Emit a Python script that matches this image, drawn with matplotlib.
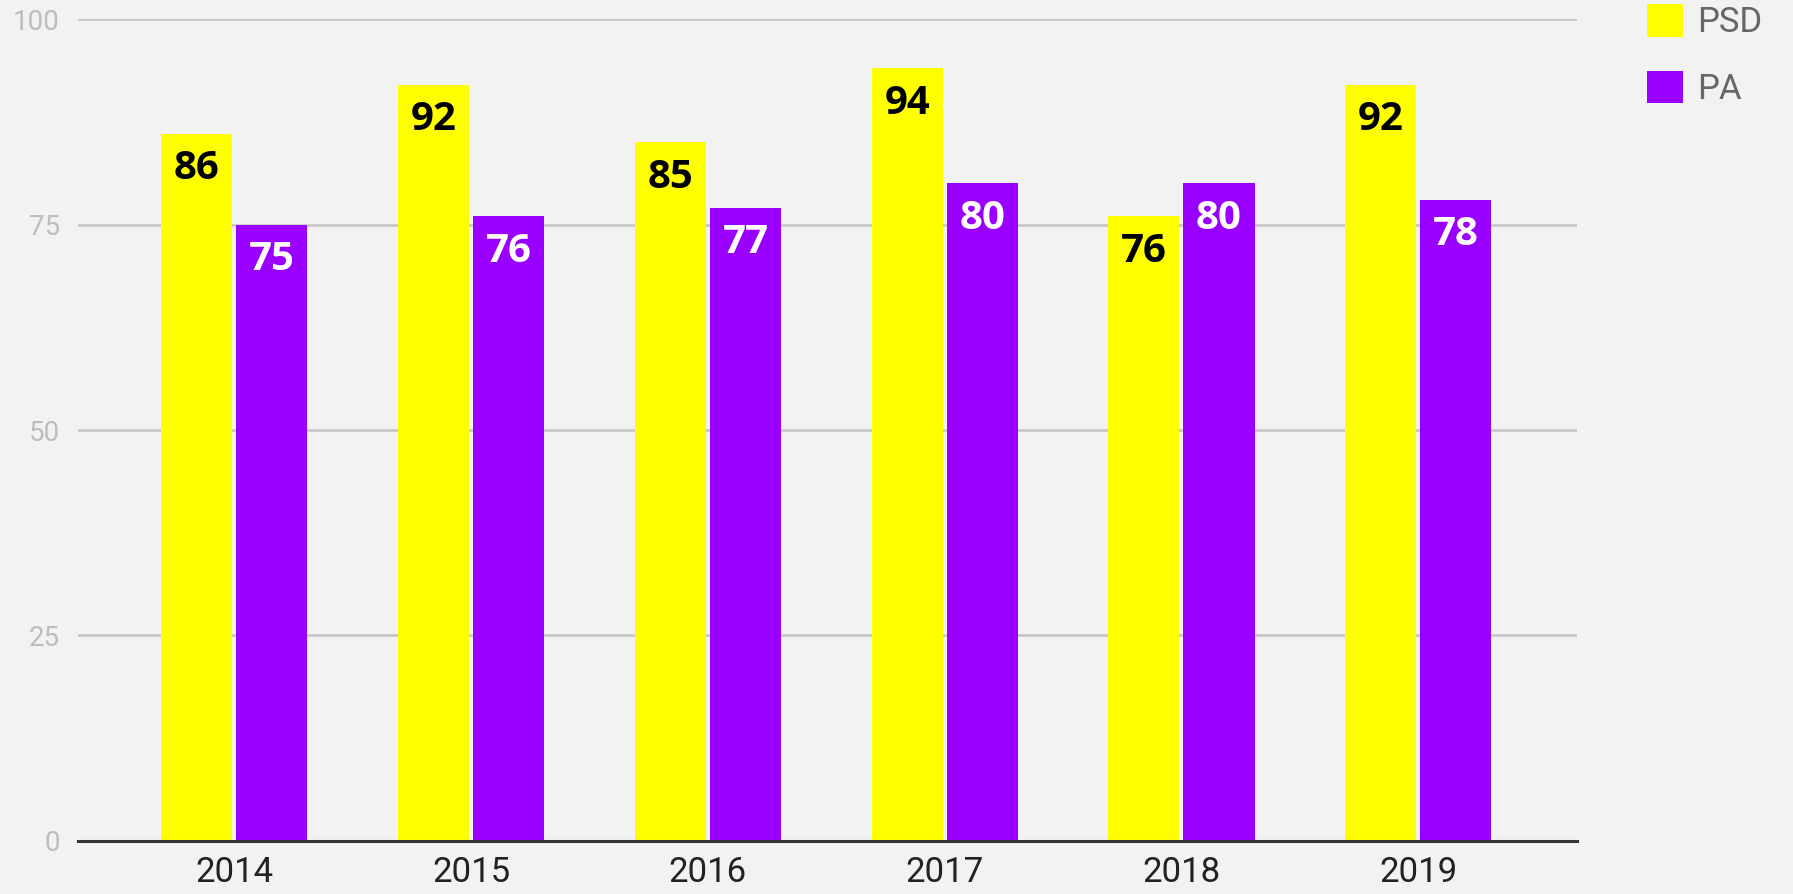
import matplotlib.pyplot as plt
import numpy as np
from matplotlib.patches import Patch

# Daten
years = ["2014", "2015", "2016", "2017", "2018", "2019"]
psd = [86, 92, 85, 94, 76, 92]
pa = [75, 76, 77, 80, 80, 78]
series_names = ["PSD", "PA"]
yticks = [0, 25, 50, 75, 100]

yellow = "#ffff00"
purple = "#9900ff"
bg = "#f2f2f2"

plt.rcParams['font.family'] = ['Roboto', 'DejaVu Sans']

fig = plt.figure(figsize=(17.93, 8.94), dpi=100, facecolor=bg)
ax = fig.add_axes([0.0435, 0.0593, 0.836, 0.9194])
ax.set_facecolor(bg)

x = np.arange(len(years))
w = 0.30
gap = 0.017
b1 = ax.bar(x - w / 2 - gap / 2, psd, w, color=yellow, zorder=3)
b2 = ax.bar(x + w / 2 + gap / 2, pa, w, color=purple, zorder=3)

# Werte in den Balken
for rects, vals, col in [(b1, psd, "black"), (b2, pa, "white")]:
    for r, v in zip(rects, vals):
        ax.annotate(str(v), (r.get_x() + r.get_width() / 2, v),
                    xytext=(0, -25), textcoords="offset points",
                    ha="center", va="center", fontsize=29,
                    fontweight="bold", color=col, zorder=4,
                    family=["Open Sans", "DejaVu Sans"])

ax.set_xlim(-0.66, 5.67)
ax.set_ylim(0, 100)
ax.set_yticks(yticks)
ax.set_yticklabels([str(t) for t in yticks])
ax.set_xticks(x)
ax.set_xticklabels(years)
ax.tick_params(axis="y", length=0, pad=13, labelsize=20, labelcolor="#bdbdbd")
ax.tick_params(axis="x", length=0, pad=11, labelsize=25, labelcolor="#222222")
ax.yaxis.grid(True, color="#c4c4c4", linewidth=1.8, zorder=0)
ax.set_axisbelow(True)

for s in ["top", "right", "left"]:
    ax.spines[s].set_visible(False)
ax.spines["bottom"].set_color("#333333")
ax.spines["bottom"].set_linewidth(2.2)
ax.spines["bottom"].set_zorder(5)

handles = [Patch(facecolor=yellow, edgecolor="none"),
           Patch(facecolor=purple, edgecolor="none")]
leg = fig.legend(handles, series_names, loc="upper left",
                 bbox_to_anchor=(0.901, 1.03), frameon=False,
                 fontsize=25, labelcolor="#666666",
                 handlelength=1.05, handleheight=1.05,
                 handletextpad=0.4, labelspacing=0.9)

fig.savefig("out.png", dpi=100, facecolor=bg)
